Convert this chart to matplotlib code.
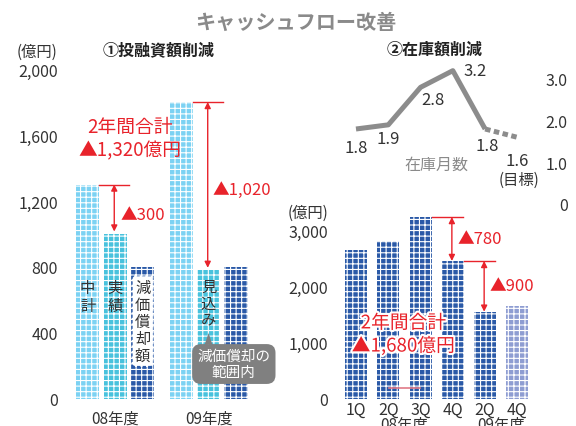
import matplotlib
matplotlib.use("Agg")
import matplotlib.pyplot as plt
import matplotlib.patheffects as pe
from matplotlib.patches import Polygon

plt.rcParams['font.family'] = ['Noto Sans CJK JP', 'DejaVu Sans']
plt.rcParams['hatch.linewidth'] = 0.8

# ① 投融資額 (億円)
inv_groups = ['08年度', '09年度']
inv_plan = [1300, 1800]        # 中計
inv_actual = [1000, 780]       # 実績 / 見込み
inv_depr = [800, 800]          # 減価償却額
inv_cuts = [300, 1020]

# ② 在庫額 (億円) と在庫月数
inv_q_labels = ['1Q', '2Q', '3Q', '4Q', '2Q', '4Q']
stock_amount = [2650, 2800, 3230, 2450, 1550, 1650]
stock_months = [1.8, 1.9, 2.8, 3.2, 1.8, 1.6]
stock_cuts = [780, 900]

W, H = 576, 427
RED = '#e8232b'
TXT = '#333333'
C_PLAN = '#7cd2f3'
C_ACT = '#48c2dd'
C_DEP = '#2a59a7'
C_TGT = '#8e9dd2'


def rect(x0, ytop, x1, ybot):
    return [x0 / W, 1 - ybot / H, (x1 - x0) / W, (ybot - ytop) / H]


fig = plt.figure(figsize=(W / 100, H / 100), dpi=100)

fig.text(296 / W, 1 - 22 / H, 'キャッシュフロー改善', ha='center', va='center',
         fontsize=14.5, fontweight='bold', color='#8a8a8a')
fig.text(159 / W, 1 - 50 / H, '①投融資額削減', ha='center', va='center',
         fontsize=11.5, fontweight='bold', color='#222222')
fig.text(435 / W, 1 - 50 / H, '②在庫額削減', ha='center', va='center',
         fontsize=11.5, fontweight='bold', color='#222222')
fig.text(37 / W, 1 - 52 / H, '(億円)', ha='center', va='center', fontsize=11, color=TXT)
fig.text(308 / W, 1 - 213 / H, '(億円)', ha='center', va='center', fontsize=11, color=TXT)


def clean(ax):
    for s in ax.spines.values():
        s.set_visible(False)
    ax.patch.set_alpha(0)
    ax.tick_params(length=0, colors=TXT, labelsize=11.5)


# ---- left: investment ----
ax1 = fig.add_axes(rect(70, 70, 255, 400))
clean(ax1)
bw = 0.84
gap = 3.4
for g in range(2):
    x0 = g * gap
    ax1.bar(x0, inv_plan[g], bw, color=C_PLAN, hatch='+++', edgecolor='white', linewidth=0)
    ax1.bar(x0 + 1, inv_actual[g], bw, color=C_ACT, hatch='+++', edgecolor='white', linewidth=0)
    ax1.bar(x0 + 2, inv_depr[g], bw, color=C_DEP, hatch='+++', edgecolor='white', linewidth=0)

    # reduction arrow from plan to actual
    ax1.plot([x0 + bw / 2, x0 + 1.51], [inv_plan[g]] * 2, color=RED, lw=1)
    ax1.annotate('', xy=(x0 + 0.97, inv_actual[g] + 15), xytext=(x0 + 0.97, inv_plan[g]),
                 arrowprops=dict(arrowstyle='<|-|>', color=RED, lw=1,
                                 mutation_scale=9, shrinkA=0, shrinkB=0))

ax1.text(1.18, 1120, f'▲{inv_cuts[0]:,}', color=RED, fontsize=12, va='center', ha='left')
ax1.text(gap + 1.16, 1270, f'▲{inv_cuts[1]:,}', color=RED, fontsize=12, va='center', ha='left')

ax1.set_xlim(-0.64, 6.09)
ax1.set_ylim(0, 2000)
ax1.set_yticks(range(0, 2001, 400))
ax1.set_yticklabels([f'{v:,}' for v in range(0, 2001, 400)])
ax1.tick_params(axis='y', pad=8.6)
ax1.set_xticks([1, gap + 1])
ax1.set_xticklabels(inv_groups, fontsize=11)
ax1.tick_params(axis='x', pad=8)

ax1.text(1.55, 1650, '2年間合計', color=RED, fontsize=13.5, ha='center', va='center')
ax1.text(1.55, 1510, f'▲{sum(inv_cuts):,}億円', color=RED, fontsize=13.5,
         ha='center', va='center')

ax1.text(0, 620, '中\n計', fontsize=11, color=TXT, ha='center', va='center', linespacing=1.1)
ax1.text(1, 620, '実\n績', fontsize=11, color=TXT, ha='center', va='center', linespacing=1.1)
ax1.text(2, 472, '\n'.join('減価償却額'), fontsize=11, color=TXT, ha='center', va='center',
         linespacing=1.0,
         bbox=dict(boxstyle='round,pad=0.15', fc='white', ec='white', lw=1.5, ls=':'))
ax1.text(gap + 1, 580, '\n'.join('見込み'), fontsize=11, color=TXT, ha='center',
         va='center', linespacing=1.0)

ax1.text(gap + 1.92, 212, '減価償却の\n範囲内', fontsize=10.5, color='white',
         ha='center', va='center', linespacing=1.15,
         bbox=dict(boxstyle='round,pad=0.35,rounding_size=0.6', fc='#808080', ec='none'))
ax1.add_patch(Polygon([[gap + 0.86, 330], [gap + 1.14, 330], [gap + 1.0, 400]],
                      closed=True, fc='#808080', ec='none'))

# ---- right: stock amount ----
ax2 = fig.add_axes(rect(335, 214.1, 540, 400))
clean(ax2)
xs = range(len(stock_amount))
cols = [C_DEP] * 5 + [C_TGT]
ax2.bar(xs, stock_amount, 0.68, color=cols, hatch='+++', edgecolor='white', linewidth=0)
ax2.set_xlim(-0.65, 5.70)
ax2.set_ylim(0, 3300)
ax2.set_yticks(range(0, 3001, 1000))
ax2.set_yticklabels([f'{v:,}' for v in range(0, 3001, 1000)])
ax2.tick_params(axis='y', pad=5)
ax2.set_xticks(list(xs))
ax2.set_xticklabels(inv_q_labels, fontsize=11.5)
ax2.tick_params(axis='x', pad=1.5)
for xc, lab in [(1.5, '08年度'), (4.5, '09年度')]:
    ax2.annotate(lab, xy=(xc, 0), xycoords=('data', 'axes fraction'), xytext=(0, -18),
                 textcoords='offset points', ha='center', va='center', fontsize=11,
                 color=TXT, annotation_clip=False)

for i, (a, b) in enumerate([(2, 3), (3, 4)]):
    top, low = stock_amount[a], stock_amount[b]
    ax2.plot([a + 0.34, b + 0.3], [top, top], color=RED, lw=1)
    ax2.annotate('', xy=(b - 0.03, low), xytext=(b - 0.03, top),
                 arrowprops=dict(arrowstyle='<|-|>', color=RED, lw=1,
                                 mutation_scale=9, shrinkA=0, shrinkB=0))
    ax2.text(b + 0.15, (top + low) / 2 + 10, f'▲{stock_cuts[i]}', color=RED,
             fontsize=12, ha='left', va='center')
ax2.plot([1.02, 1.98], [195, 195], color='#e07a88', lw=1.2)

halo = [pe.withStroke(linewidth=3, foreground='white')]
ax2.text(1.47, 1350, '2年間合計', color=RED, fontsize=13.5, ha='center', va='center',
         path_effects=halo)
ax2.text(1.46, 940, f'▲{sum(stock_cuts):,}億円', color=RED, fontsize=13.5,
         ha='center', va='center', path_effects=halo)

# ---- right: months of stock line ----
ax3 = fig.add_axes(rect(335, 65, 540, 205))
clean(ax3)
ax3.plot(list(xs)[:5], stock_months[:5], color='#8c8c8c', lw=3.6, solid_capstyle='butt')
ax3.plot(list(xs)[4:], stock_months[4:], color='#8c8c8c', lw=3.6,
         linestyle=(0, (1.1, 0.7)), dash_capstyle='butt')
ax3.set_xlim(-0.65, 5.70)
ax3.set_ylim(0, 3.36)
ax3.set_xticks([])
ax3.yaxis.tick_right()
ax3.set_yticks([0, 1, 2, 3])
ax3.set_yticklabels(['0', '1.0', '2.0', '3.0'])
ax3.tick_params(axis='y', pad=20)
for t in ax3.get_yticklabels():
    t.set_ha('right')

offsets = [(0, -13), (0, -10), (9, -9), (16, 0), (1.5, -12), (0, -17)]
for x, v, off in zip(xs, stock_months, offsets):
    ax3.annotate(f'{v:.1f}', xy=(x, v), xytext=off, textcoords='offset points',
                 ha='center', va='center', fontsize=12, color=TXT)
ax3.annotate('(目標)', xy=(5, stock_months[5]), xytext=(1, -30), textcoords='offset points',
             ha='center', va='center', fontsize=11, color=TXT)
ax3.text(2.5, 0.95, '在庫月数', fontsize=11.5, color='#8a8a8a', ha='center', va='center')

fig.savefig('out.png', dpi=100)
